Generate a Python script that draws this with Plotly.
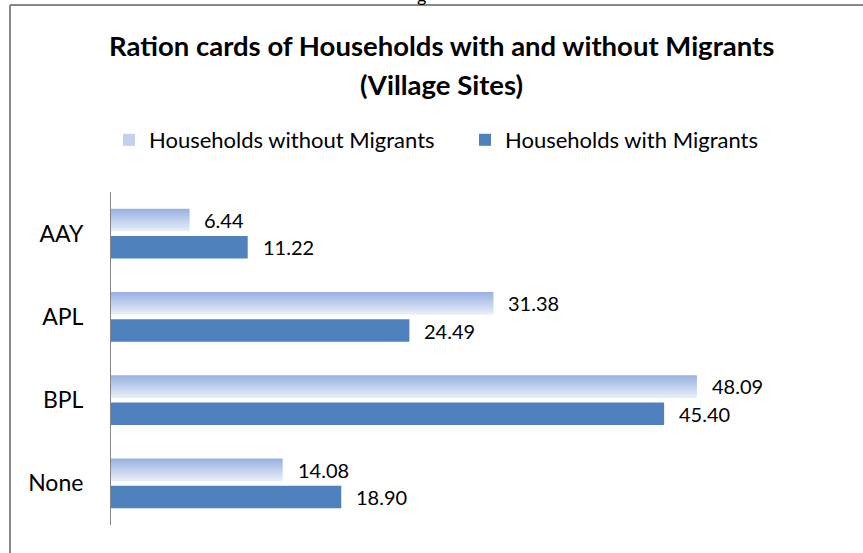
import plotly.graph_objects as go

# ---- data ----
categories = ["AAY", "APL", "BPL", "None"]
without_migrants = [6.44, 31.38, 48.09, 14.08]
with_migrants = [11.22, 24.49, 45.40, 18.90]
series_names = ["Households without Migrants", "Households with Migrants"]

# ---- canvas geometry ----
W, H = 863, 553
M_L, M_R, M_T, M_B = 111, 21, 192, 28
PW, PH = W - M_L - M_R, H - M_T - M_B
X_MAX = 60
BAND = PH / len(categories)


def px_x(px):
    return (px - M_L) / PW


def px_y(py):
    return (H - M_B - py) / PH


FONT = "Lato, 'Open Sans', Arial, sans-serif"
DARK = "#4F81BD"
GRAD_TOP = (152, 178, 226)
GRAD_BOT = (230, 236, 247)

LIGHT_OFF, DARK_OFF, BAR_W = -0.30, 0.03, 0.27
N_SLICES = 16
LABEL_SIZE = 20

fig = go.Figure()

# light series drawn as stacked horizontal slices to give a vertical gradient
step = BAR_W / N_SLICES
for i in range(N_SLICES):
    t = i / (N_SLICES - 1)
    r, g, b = (round(a + (c - a) * t) for a, c in zip(GRAD_TOP, GRAD_BOT))
    w = step * 1.6 if i < N_SLICES - 1 else step
    fig.add_trace(go.Bar(
        y=categories, x=without_migrants, orientation="h",
        offset=LIGHT_OFF + i * step, width=w,
        marker=dict(color=f"rgb({r},{g},{b})", line=dict(width=0)),
        name=series_names[0], legendgroup="without",
        showlegend=(i == N_SLICES // 2), hoverinfo="skip",
    ))

fig.add_trace(go.Bar(
    y=categories, x=with_migrants, orientation="h",
    offset=DARK_OFF, width=BAR_W,
    marker=dict(color=DARK, line=dict(width=0)),
    name=series_names[1], legendgroup="with", hoverinfo="skip",
))

# value labels at the end of each bar
annotations = []
for values, off in [(without_migrants, LIGHT_OFF), (with_migrants, DARK_OFF)]:
    for cat, v in zip(categories, values):
        annotations.append(dict(
            x=v, y=cat, xref="x", yref="y", text=f"{v:.2f}", showarrow=False,
            xanchor="left", yanchor="middle", xshift=13,
            yshift=-(off + BAR_W / 2) * BAND,
            font=dict(family=FONT, size=LABEL_SIZE, color="#000"),
        ))

# two-line title
for text, ypx in [("Ration cards of Households with and without Migrants", 46),
                  ("(Village Sites)", 84)]:
    annotations.append(dict(
        x=px_x(441), y=px_y(ypx), xref="paper", yref="paper", text=f"<b>{text}</b>",
        showarrow=False, xanchor="center", yanchor="middle",
        font=dict(family=FONT, size=27.5, color="#000"),
    ))

# stray glyph of the caption line above the chart
annotations.append(dict(
    x=px_x(421), y=px_y(8), xref="paper", yref="paper", text="g",
    showarrow=False, xanchor="center", yanchor="bottom",
    font=dict(family=FONT, size=18, color="#000"),
))

# chart frame (left and top edges)
frame = dict(color="#878787", width=2)
shapes = [
    dict(type="line", xref="paper", yref="paper",
         x0=px_x(10), x1=px_x(W + 2), y0=px_y(5), y1=px_y(5), line=frame),
    dict(type="line", xref="paper", yref="paper",
         x0=px_x(10), x1=px_x(10), y0=px_y(5), y1=px_y(H + 2), line=frame),
]

fig.update_layout(
    width=W, height=H,
    margin=dict(l=M_L, r=M_R, t=M_T, b=M_B, autoexpand=False),
    paper_bgcolor="white", plot_bgcolor="white",
    barmode="overlay",
    showlegend=True,
    legend=dict(
        orientation="h", x=px_x(109), y=px_y(140), xanchor="left", yanchor="middle",
        xref="paper", yref="paper",
        font=dict(family=FONT, size=22, color="#000"),
        entrywidth=311, entrywidthmode="pixels",
        bgcolor="rgba(0,0,0,0)", borderwidth=0,
    ),
    xaxis=dict(range=[0, X_MAX], visible=False, fixedrange=True),
    yaxis=dict(
        categoryorder="array", categoryarray=categories, autorange="reversed",
        showline=True, linecolor="#868686", linewidth=1,
        showgrid=False, zeroline=False, ticks="",
        ticklabelstandoff=22,
        tickfont=dict(family=FONT, size=23, color="#000"),
    ),
    annotations=annotations,
    shapes=shapes,
    font=dict(family=FONT),
)

fig.write_html("out.html")
